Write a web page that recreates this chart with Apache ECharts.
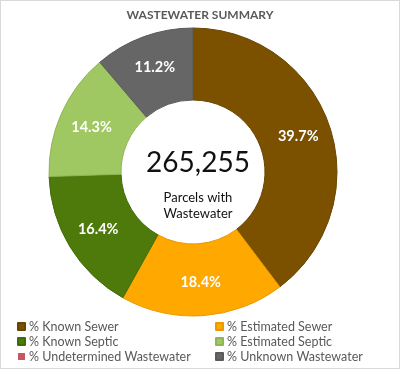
<!DOCTYPE html>
<html><head><meta charset="utf-8">
<script src="https://cdn.jsdelivr.net/npm/echarts@6/dist/echarts.min.js"></script>
<style>
html,body{margin:0;padding:0;background:#fff;}
#c{position:absolute;left:0;top:0;width:398px;height:367px;border:1px solid #d9d9d9;}
</style></head>
<body><div id="c"></div>
<script>
const categories = ['% Known Sewer','% Estimated Sewer','% Known Septic','% Estimated Septic','% Undetermined Wastewater','% Unknown Wastewater'];
const values = [39.7, 18.4, 16.4, 14.3, 0, 11.2];
const colors = ['#7B5100','#FFA800','#4E7A0C','#A0C862','#C9585E','#666666'];
const borders = ['#6A4500','#E89A00','#426A08','#8FB655','#B04C52','#5A5A5A'];
const totalParcels = '265,255';
const centerLabel = 'Parcels with\nWastewater';
const titleText = 'WASTEWATER SUMMARY';

const chart = echarts.init(document.getElementById('c'));
const font = 'Lato, "Liberation Sans", sans-serif';
const legendBase = {orient: 'vertical', top: 318, height: 50, padding: 0, itemWidth: 7, itemHeight: 7, itemGap: 0, icon: 'rect',
  textStyle: {fontFamily: font, fontSize: 12.5, lineHeight: 15, color: '#595959', padding: [0,0,0,-1]}};
chart.setOption({
  animation: false,
  title: [
    {text: titleText, left: 'center', top: 3, textStyle: {fontFamily: font, fontSize: 12, fontWeight: 'bold', color: '#595959'}},
    {text: totalParcels, left: 192, top: 143, textAlign: 'center', textStyle: {fontFamily: font, fontSize: 28, fontWeight: 'normal', color: '#111'}},
    {text: centerLabel, left: 192, top: 184, textAlign: 'center', textStyle: {fontFamily: font, fontSize: 13, fontWeight: 'normal', color: '#111', lineHeight: 16}}
  ],
  legend: [
    Object.assign({}, legendBase, {left: 16, data: [categories[0], categories[2], categories[4]]}),
    Object.assign({}, legendBase, {left: 214, data: [categories[1], categories[3], categories[5]]})
  ],
  series: [{
    type: 'pie',
    center: [192, 171],
    radius: [72, 144],
    startAngle: 90,
    clockwise: true,
    avoidLabelOverlap: false,
    label: {
      show: true, position: 'inside',
      formatter: p => p.value > 0 ? p.value.toFixed(1) + '%' : '',
      color: '#fff', fontFamily: font, fontSize: 14.5, fontWeight: 'bold'
    },
    labelLine: {show: false},
    emphasis: {disabled: true},
    data: categories.map((n, i) => ({
      name: n, value: values[i],
      itemStyle: {color: colors[i], borderColor: borders[i], borderWidth: values[i] > 0 ? 1 : 0}
    }))
  }]
});
</script></body></html>
